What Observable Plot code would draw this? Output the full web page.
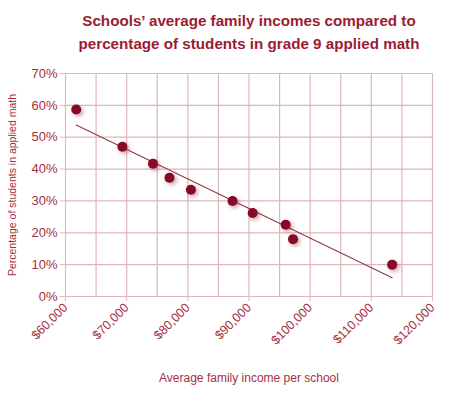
<!DOCTYPE html>
<html>
<head>
<meta charset="utf-8">
<script src="https://cdn.jsdelivr.net/npm/d3@7"></script>
<script src="https://cdn.jsdelivr.net/npm/@observablehq/plot@0.6"></script>
<style>
  html, body { margin: 0; padding: 0; background: #fff; }
  #wrap { width: 450px; height: 393px; position: relative; font-family: "Liberation Sans", Arial, sans-serif; }
  #title { position: absolute; left: 0; top: 9px; width: 450px; padding-left: 48px; box-sizing: border-box; text-align: center; color: #9b1c32; font-weight: bold; font-size: 15.2px; line-height: 23px; }
  #chart { position: absolute; left: 0; top: 60px; }
  .dots circle { filter: drop-shadow(2px 2px 2px rgba(150, 30, 50, 0.45)); }
</style>
</head>
<body>
<div id="wrap">
  <div id="title">Schools’ average family incomes compared to<br>percentage of students in grade 9 applied math</div>
  <div id="chart"></div>
</div>
<script>
const incomes = [61750, 69300, 74300, 77000, 80500, 87300, 90600, 96000, 97200, 113400];
const percents = [58.7, 47.0, 41.7, 37.3, 33.5, 30.0, 26.2, 22.5, 18.0, 10.0];
const xTicks = [60000, 70000, 80000, 90000, 100000, 110000, 120000];
const yTicks = [0, 10, 20, 30, 40, 50, 60, 70];
const xGrid = d3.range(60000, 120001, 5000);
const yTitle = "Percentage of students in applied math";
const xTitle = "Average family income per school";

const data = incomes.map((x, i) => ({x, y: percents[i]}));

const gridColor = "#dfb6ba";
const textColor = "#a5303f";
const dotColor = "#860a26";

const chart = Plot.plot({
  width: 450,
  height: 333,
  marginTop: 13,
  marginBottom: 97,
  marginLeft: 65,
  marginRight: 18,
  style: { fontFamily: "Liberation Sans, Arial, sans-serif", color: textColor, fontSize: "12px", background: "transparent" },
  x: { domain: [60000, 120000], label: null },
  y: { domain: [0, 70], label: null },
  marks: [
    Plot.ruleX(xGrid, { stroke: gridColor, strokeWidth: 1.2 }),
    Plot.ruleY(yTicks, { stroke: gridColor, strokeWidth: 1.2 }),
    Plot.axisX({ ticks: xTicks, tickFormat: d => "$" + d3.format(",")(d), tickRotate: -45, tickSize: 5, stroke: gridColor, fill: textColor, fontSize: 12.5, tickPadding: 4, label: null }),
    Plot.axisY({ ticks: yTicks, tickFormat: d => d + "%", tickSize: 5, stroke: gridColor, fill: textColor, fontSize: 13, tickPadding: 3, label: null }),
    Plot.text([yTitle], { text: d => d, frameAnchor: "left", textAnchor: "middle", rotate: -90, dx: -53, fontSize: 10.5, fill: textColor }),
    Plot.text([xTitle], { text: d => d, frameAnchor: "bottom", dy: 85, fontSize: 12, fill: textColor }),
    Plot.linearRegressionY(data, { x: "x", y: "y", ci: 0, stroke: "#8d3a45", strokeWidth: 1.1 }),
    Plot.dot(data, { x: "x", y: "y", r: 5, fill: dotColor, className: "dots" })
  ]
});
document.getElementById("chart").appendChild(chart);
</script>
</body>
</html>
